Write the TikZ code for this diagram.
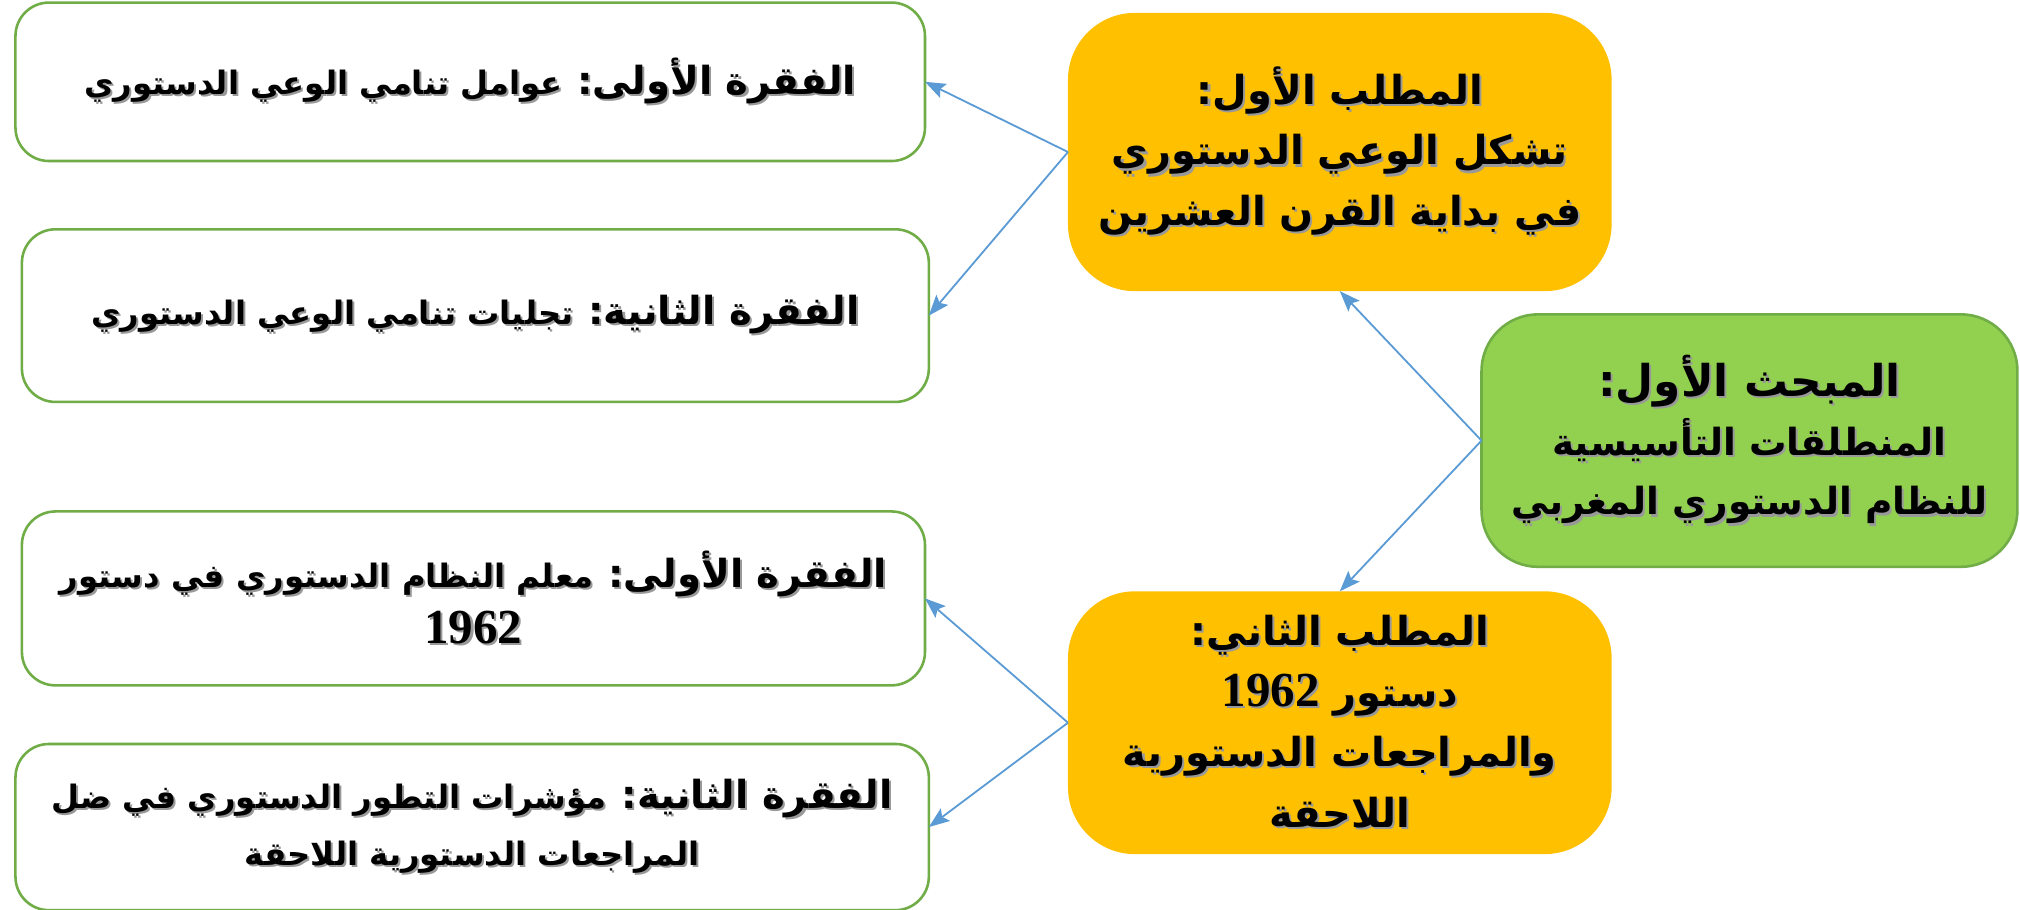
\documentclass[tikz,border=0pt]{standalone}
\usepackage{fontspec}
\TeXXeTstate=1
\newfontfamily\ar[Script=Arabic,BoldFont={DejaVu Sans Bold}]{DejaVu Sans}
\newfontfamily\lat{Liberation Serif}
\usetikzlibrary{arrows.meta}
\definecolor{bluearr}{HTML}{5B9BD5}
\definecolor{grnbd}{HTML}{70AD47}
\definecolor{grnfill}{HTML}{92D050}
\definecolor{orng}{HTML}{FFC000}
\newcommand{\R}[1]{\beginR #1\endR}
\newcommand{\SL}[1]{\makebox[0pt][l]{\hspace{1.6pt}\raisebox{-1.6pt}{\textcolor{black!40}{\R{#1}}}}\R{#1}}
\newcommand{\N}[1]{\beginL{\lat\bfseries\fontsize{38}{42}\selectfont #1}\endL}
\begin{document}
\begin{tikzpicture}[x=1pt,y=-1pt,
  leafbox/.style={draw=grnbd,line width=2pt,fill=white,rounded corners=26pt,
    minimum width=#1,align=center,inner sep=0pt,outer sep=0pt,
    font=\ar\bfseries\fontsize{25}{44}\selectfont},
  midbox/.style={fill=orng,rounded corners=52pt,minimum width=422pt,minimum height=#1,
    align=center,inner sep=0pt,outer sep=0pt,
    font=\ar\bfseries\fontsize{31}{47}\selectfont},
  rootbox/.style={draw=grnbd,line width=2pt,fill=grnfill,rounded corners=44pt,
    minimum width=416pt,minimum height=196pt,align=center,inner sep=0pt,outer sep=0pt,
    font=\ar\bfseries\fontsize{29}{46}\selectfont},
  arr/.style={draw=bluearr,line width=1.4pt,-{Stealth[length=16pt,width=12pt,inset=3pt]}}
]
\useasboundingbox (0,0) rectangle (1568,706);
\fill[white] (0,0) rectangle (1568,706);

\node[leafbox=706pt,minimum height=123pt] (L1) at (365,63.5)
  {\SL{{\fontsize{30}{44}\selectfont الفقرة الأولى:} عوامل تنامي الوعي الدستوري}};
\node[leafbox=704pt,minimum height=134pt] (L2) at (369,245)
  {\SL{{\fontsize{30}{44}\selectfont الفقرة الثانية:} تجليات تنامي الوعي الدستوري}};
\node[leafbox=701pt,minimum height=135pt] (L3) at (367.5,464.5)
  {\SL{{\fontsize{30}{44}\selectfont الفقرة الأولى:} معلم النظام الدستوري في دستور}\\ \SL{\N{1962}}};
\node[leafbox=709pt,minimum height=129pt] (L4) at (366.5,642)
  {\SL{{\fontsize{30}{44}\selectfont الفقرة الثانية:} مؤشرات التطور الدستوري في ضل}\\ \SL{المراجعات الدستورية اللاحقة}};

\node[midbox=216pt] (O1) at (1040,118)
  {\SL{المطلب الأول:}\\ \SL{تشكل الوعي الدستوري}\\ \SL{في بداية القرن العشرين}};
\node[midbox=204pt] (O2) at (1040,561)
  {\SL{المطلب الثاني:}\\ \SL{دستور \N{1962}}\\ \SL{والمراجعات الدستورية}\\ \SL{اللاحقة}};

\node[rootbox] (G) at (1358,342)
  {\SL{{\fontsize{34}{46}\selectfont المبحث الأول:}}\\ \SL{المنطلقات التأسيسية}\\ \SL{للنظام الدستوري المغربي}};

\draw[arr] (O1.west) -- (L1.east);
\draw[arr] (O1.west) -- (L2.east);
\draw[arr] (G.west) -- (O1.south);
\draw[arr] (G.west) -- (O2.north);
\draw[arr] (O2.west) -- (L3.east);
\draw[arr] (O2.west) -- (L4.east);
\end{tikzpicture}
\end{document}
